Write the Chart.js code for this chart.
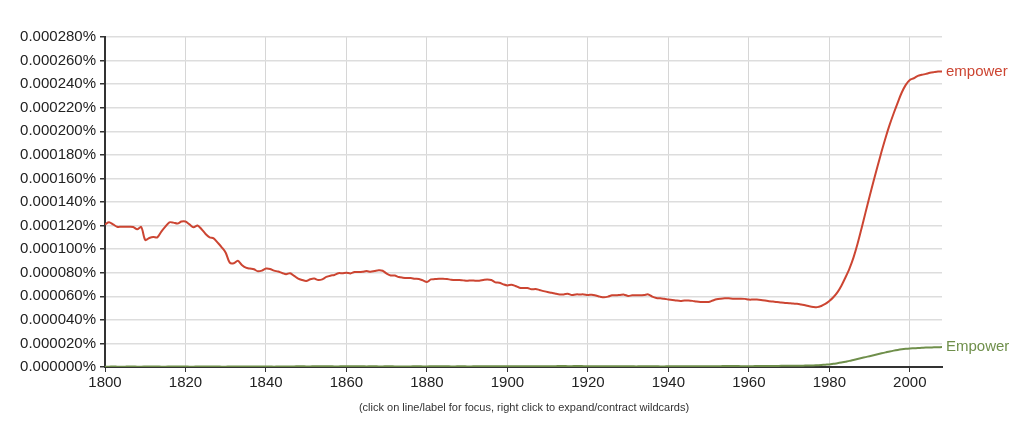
<!DOCTYPE html>
<html>
<head>
<meta charset="utf-8">
<script src="https://cdn.jsdelivr.net/npm/chart.js@4/dist/chart.umd.min.js"></script>
<style>
  html, body { margin: 0; padding: 0; background: #ffffff; }
  #wrap { width: 1034px; height: 436px; position: relative; }
</style>
</head>
<body>
<div id="wrap"><canvas id="c" width="1034" height="436"></canvas></div>
<script>
// ---- data (share of corpus, in percent) ----
const startYear = 1800;
const endYear = 2008;
const seriesNames = ['empower', 'Empower'];

const empowerLower = [
  0.000121, 0.0001228, 0.000121, 0.000119, 0.000119, 0.000119, 0.000119, 0.0001188, 0.0001168, 0.0001188,
  0.0001078, 0.0001095, 0.0001104, 0.00011, 0.0001149, 0.0001191, 0.0001228, 0.0001225, 0.0001217, 0.0001234,
  0.0001234, 0.000121, 0.0001186, 0.00012, 0.0001169, 0.0001129, 0.00011, 0.0001092, 0.0001055, 0.0001016,
  0.000097, 0.0000885, 0.000088, 0.0000902, 0.0000866, 0.0000843, 0.0000835, 0.0000829, 0.0000812, 0.0000818,
  0.0000835, 0.0000832, 0.0000818, 0.000081, 0.0000798, 0.0000787, 0.0000796, 0.0000773, 0.000075, 0.0000738,
  0.000073, 0.0000744, 0.000075, 0.0000738, 0.0000744, 0.0000764, 0.0000775, 0.0000781, 0.0000796, 0.0000796,
  0.00008, 0.0000794, 0.0000806, 0.0000806, 0.0000808, 0.0000814, 0.0000808, 0.0000814, 0.000082, 0.0000817,
  0.0000792, 0.0000776, 0.0000776, 0.0000763, 0.0000758, 0.0000755, 0.0000755, 0.0000749, 0.0000746, 0.0000735,
  0.0000721, 0.0000743, 0.0000746, 0.0000749, 0.0000749, 0.0000746, 0.0000741, 0.0000738, 0.0000738, 0.0000735,
  0.0000732, 0.0000735, 0.0000732, 0.0000732, 0.0000738, 0.0000743, 0.0000738, 0.0000718, 0.0000715, 0.0000701,
  0.0000692, 0.0000698, 0.0000687, 0.0000673, 0.000067, 0.000067, 0.0000659, 0.0000662, 0.0000653, 0.0000644,
  0.0000636, 0.000063, 0.0000622, 0.0000616, 0.0000616, 0.0000622, 0.0000611, 0.0000616, 0.0000616, 0.0000616,
  0.0000611, 0.0000614, 0.0000606, 0.0000597, 0.0000592, 0.0000597, 0.0000608, 0.0000608, 0.0000611, 0.0000614,
  0.0000603, 0.0000608, 0.0000608, 0.0000608, 0.0000611, 0.0000616, 0.0000597, 0.0000586, 0.0000583, 0.000058,
  0.0000572, 0.0000569, 0.0000564, 0.0000561, 0.0000564, 0.0000564, 0.0000561, 0.0000555, 0.0000552, 0.0000552,
  0.0000552, 0.0000564, 0.0000575, 0.000058, 0.0000583, 0.0000583, 0.000058, 0.000058, 0.000058, 0.0000578,
  0.0000572, 0.0000572, 0.0000572, 0.0000569, 0.0000564, 0.0000558, 0.0000555, 0.0000552, 0.0000547, 0.0000544,
  0.0000541, 0.0000538, 0.0000536, 0.000053, 0.0000524, 0.0000516, 0.000051, 0.0000508, 0.0000518, 0.0000535,
  0.000056, 0.0000592, 0.0000633, 0.000069, 0.0000759, 0.0000835, 0.0000928, 0.0001043, 0.0001175, 0.0001312,
  0.0001447, 0.0001578, 0.0001705, 0.000183, 0.0001948, 0.0002056, 0.0002153, 0.0002244, 0.0002329, 0.0002394,
  0.0002436, 0.000245, 0.000247, 0.0002479, 0.0002487, 0.0002496, 0.0002502, 0.0002507, 0.0002507
];

const empowerUpper = [
  0.0000003, 0.0000003, 0.0000004, 0.0000003, 0.0000002, 0.0000003, 0.0000004, 0.0000004, 0.0000003, 0.0000003,
  0.0000004, 0.0000005, 0.0000004, 0.0000004, 0.0000003, 0.0000003, 0.0000004, 0.0000005, 0.0000005, 0.0000004,
  0.0000004, 0.0000003, 0.0000003, 0.0000004, 0.0000004, 0.0000005, 0.0000005, 0.0000004, 0.0000004, 0.0000003,
  0.0000003, 0.0000004, 0.0000004, 0.0000005, 0.0000005, 0.0000004, 0.0000004, 0.0000004, 0.0000005, 0.0000005,
  0.0000004, 0.0000004, 0.0000003, 0.0000004, 0.0000004, 0.0000005, 0.0000005, 0.0000005, 0.0000006, 0.0000006,
  0.0000005, 0.0000005, 0.0000006, 0.0000006, 0.0000007, 0.0000006, 0.0000006, 0.0000005, 0.0000005, 0.0000006,
  0.0000006, 0.0000007, 0.0000007, 0.0000006, 0.0000006, 0.0000005, 0.0000006, 0.0000006, 0.0000005, 0.0000005,
  0.0000006, 0.0000006, 0.0000005, 0.0000005, 0.0000004, 0.0000005, 0.0000005, 0.0000006, 0.0000006, 0.0000005,
  0.0000005, 0.0000006, 0.0000007, 0.0000007, 0.0000006, 0.0000006, 0.0000005, 0.0000005, 0.0000006, 0.0000006,
  0.0000005, 0.0000005, 0.0000006, 0.0000006, 0.0000007, 0.0000007, 0.0000006, 0.0000006, 0.0000007, 0.0000007,
  0.0000006, 0.0000006, 0.0000007, 0.0000007, 0.0000006, 0.0000006, 0.0000006, 0.0000007, 0.0000007, 0.0000006,
  0.0000006, 0.0000007, 0.0000007, 0.0000008, 0.0000008, 0.0000007, 0.0000007, 0.0000008, 0.0000008, 0.0000007,
  0.0000007, 0.0000007, 0.0000006, 0.0000006, 0.0000007, 0.0000007, 0.0000006, 0.0000006, 0.0000007, 0.0000007,
  0.0000006, 0.0000006, 0.0000005, 0.0000006, 0.0000006, 0.0000007, 0.0000006, 0.0000006, 0.0000005, 0.0000005,
  0.0000006, 0.0000006, 0.0000007, 0.0000006, 0.0000006, 0.0000006, 0.0000007, 0.0000007, 0.0000006, 0.0000006,
  0.0000006, 0.0000007, 0.0000007, 0.0000007, 0.0000008, 0.0000008, 0.0000008, 0.0000008, 0.0000007, 0.0000007,
  0.0000007, 0.0000007, 0.0000008, 0.0000008, 0.0000008, 0.0000009, 0.0000009, 0.0000009, 0.000001, 0.000001,
  0.000001, 0.000001, 0.0000011, 0.0000011, 0.0000012, 0.0000012, 0.0000013, 0.0000015, 0.0000017, 0.000002,
  0.0000022, 0.0000027, 0.0000032, 0.0000038, 0.0000045, 0.0000052, 0.000006, 0.0000068, 0.0000076, 0.0000084,
  0.0000092, 0.00001, 0.0000108, 0.0000116, 0.0000124, 0.0000132, 0.0000139, 0.0000145, 0.000015, 0.0000154,
  0.0000157, 0.0000159, 0.0000161, 0.0000163, 0.0000165, 0.0000166, 0.0000167, 0.0000168, 0.0000169
];

const yTickMax = 0.00028;
const yTickStep = 0.00002;
const xTickStep = 20;
const caption = '(click on line/label for focus, right click to expand/contract wildcards)';
const colors = ['#cc4532', '#6f8f4b'];

// ---- build datasets ----
const years = [];
for (let y = startYear; y <= endYear; y++) years.push(y);
function toPoints(vals) { return vals.map((v, i) => ({ x: years[i], y: v })); }

const FONT = '"Liberation Sans", Arial, Helvetica, sans-serif';

const endLabels = {
  id: 'endLabels',
  afterDatasetsDraw(chart) {
    const ctx = chart.ctx;
    ctx.save();
    ctx.font = '15px ' + FONT;
    ctx.textBaseline = 'middle';
    ctx.textAlign = 'left';
    chart.data.datasets.forEach((ds, i) => {
      const meta = chart.getDatasetMeta(i);
      const pt = meta.data[meta.data.length - 1];
      ctx.fillStyle = ds.borderColor;
      ctx.fillText(ds.label, pt.x + 4, pt.y);
    });
    // caption under the axis
    ctx.font = '11px ' + FONT;
    ctx.fillStyle = '#333333';
    ctx.textAlign = 'center';
    ctx.fillText(caption, 524, 408);
    ctx.restore();
  }
};

new Chart(document.getElementById('c'), {
  type: 'line',
  data: {
    datasets: [
      { label: seriesNames[0], data: toPoints(empowerLower), borderColor: colors[0], backgroundColor: colors[0],
        borderWidth: 2, pointRadius: 0, tension: 0.3, fill: false },
      { label: seriesNames[1], data: toPoints(empowerUpper), borderColor: colors[1], backgroundColor: colors[1],
        borderWidth: 2, pointRadius: 0, tension: 0.3, fill: false }
    ]
  },
  options: {
    responsive: false,
    animation: false,
    devicePixelRatio: 1,
    layout: { padding: { left: 0, right: 92, top: 37, bottom: 0 } },
    plugins: {
      legend: { display: false },
      tooltip: { enabled: false },
      title: { display: false }
    },
    scales: {
      x: {
        type: 'linear', min: startYear, max: endYear,
        afterFit(scale) { scale.height = 69; },
        ticks: { stepSize: xTickStep, includeBounds: false, color: '#222222', padding: 2,
                 font: { family: FONT, size: 15 }, callback: v => String(v), maxRotation: 0 },
        grid: { color: '#d6d6d6', lineWidth: 1, tickColor: '#333333', tickLength: 5, drawTicks: true },
        border: { color: '#333333', width: 2 }
      },
      y: {
        type: 'linear', min: 0, max: yTickMax,
        afterFit(scale) { scale.width = 105; },
        ticks: { stepSize: yTickStep, includeBounds: false, color: '#222222', padding: 4,
                 font: { family: FONT, size: 15 },
                 callback: v => v.toFixed(6) + '%' },
        grid: { color: '#dddddd', lineWidth: 1.5, tickColor: '#333333', tickLength: 5, drawTicks: true },
        border: { color: '#333333', width: 2 }
      }
    }
  },
  plugins: [endLabels]
});
</script>
</body>
</html>
